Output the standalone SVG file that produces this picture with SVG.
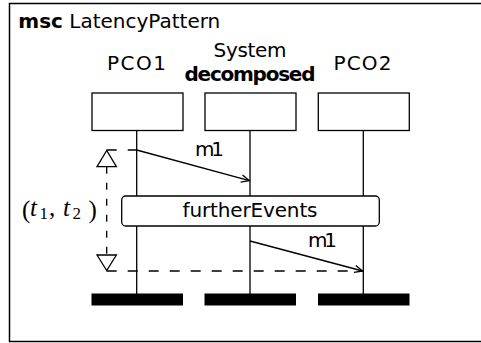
<svg xmlns="http://www.w3.org/2000/svg" width="481" height="343" viewBox="0 0 481 343">
  <style>
    .lbl { font-family: "DejaVu Sans", "Liberation Sans", sans-serif; font-size: 20px; fill: #000; }
    .bold { font-weight: bold; }
    .mid { text-anchor: middle; }
    .ln { stroke: #000; stroke-width: 1.3; fill: none; }
    .box { stroke: #000; stroke-width: 1.3; fill: #fff; }
    .bar { fill: #000; }
    .dash { stroke: #000; stroke-width: 1.3; fill: none; stroke-dasharray: 10 11; }
    .math { font-family: "Liberation Serif", "DejaVu Serif", serif; font-size: 25px; fill: #000; }
    .it { font-style: italic; }
    .sub { font-size: 17px; }
  </style>
  <defs>
    <marker id="open" markerUnits="userSpaceOnUse" markerWidth="12" markerHeight="10" refX="0" refY="0" viewBox="-10 -5 12 10" orient="auto" overflow="visible">
      <path d="M-8,-3.6 L0,0 L-8,3.6" fill="none" stroke="#000" stroke-width="1.3"/>
    </marker>
  </defs>

  <!-- frame -->
  <g id="frame">
    <rect x="9.5" y="3.5" width="490" height="338" fill="#fff" stroke="#000" stroke-width="1.5"/>
    <text class="lbl" x="18.3" y="28.3"><tspan class="bold">msc</tspan> LatencyPattern</text>
  </g>

  <!-- lifelines and message connectors -->
  <g id="connectors">
    <line class="ln" x1="136.7" y1="130" x2="136.7" y2="294"/>
    <line class="ln" x1="250" y1="130" x2="250" y2="294"/>
    <line class="ln" x1="363.3" y1="130" x2="363.3" y2="294"/>
    <line class="ln" x1="136.7" y1="150" x2="249.3" y2="180.7" marker-end="url(#open)"/>
    <line class="ln" x1="250" y1="241" x2="362.6" y2="271" marker-end="url(#open)"/>
    <text class="lbl mid" x="209.5" y="155.7" textLength="29">m1</text>
    <text class="lbl mid" x="322.5" y="246.7" textLength="29">m1</text>
  </g>

  <!-- instances -->
  <g id="PCO1">
    <text class="lbl mid" x="136.5" y="70" textLength="59">PCO1</text>
    <rect class="box" x="92" y="93" width="91" height="37.5"/>
    <rect class="bar" x="91.5" y="293.5" width="91.5" height="12"/>
  </g>
  <g id="System">
    <text class="lbl mid" x="250" y="56.7" textLength="73">System</text>
    <text class="lbl mid bold" x="250" y="80.5" textLength="131">decomposed</text>
    <rect class="box" x="205" y="93" width="91" height="37.5"/>
    <rect class="bar" x="204.5" y="293.5" width="91.5" height="12"/>
  </g>
  <g id="PCO2">
    <text class="lbl mid" x="362.5" y="70" textLength="58">PCO2</text>
    <rect class="box" x="318.3" y="93" width="91" height="37.5"/>
    <rect class="bar" x="318" y="293.5" width="91.5" height="12"/>
  </g>

  <!-- inline reference box -->
  <g id="furtherEvents">
    <rect class="box" x="121.7" y="196" width="257.6" height="30" rx="4" ry="4"/>
    <text class="lbl mid" x="250" y="216.7" textLength="135">furtherEvents</text>
  </g>

  <!-- time constraint -->
  <g id="timeConstraint">
    <line class="dash" x1="106.7" y1="150" x2="136.7" y2="150"/>
    <line class="dash" x1="106.7" y1="271" x2="363.3" y2="271"/>
    <line class="ln" x1="106.7" y1="166.7" x2="106.7" y2="255" stroke-dasharray="7 9"/>
    <path class="ln" d="M106.7,150.5 L97,166.7 L116.4,166.7 Z" fill="#fff"/>
    <path class="ln" d="M106.7,270.5 L97,255 L116.4,255 Z" fill="#fff"/>
    <text class="math">
      <tspan x="22" y="217.5">(</tspan><tspan class="it" x="30" y="215.5">t</tspan><tspan class="sub" x="39.5" y="218.5">1</tspan><tspan x="49" y="215.5">,</tspan><tspan class="it" x="63" y="215.5">t</tspan><tspan class="sub" x="72.5" y="218.5">2</tspan><tspan x="88.5" y="217.5">)</tspan>
    </text>
  </g>
</svg>
